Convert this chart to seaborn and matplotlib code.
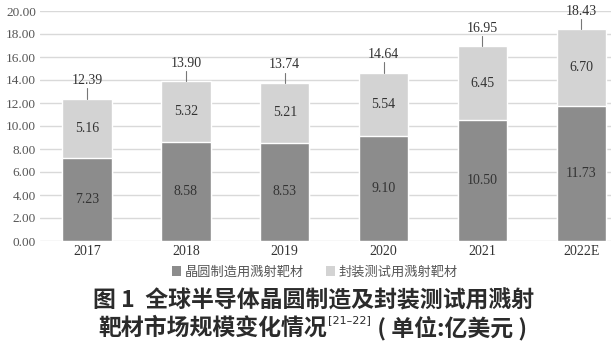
import matplotlib
matplotlib.use("Agg")
import matplotlib.pyplot as plt
import seaborn as sns
import pandas as pd
from matplotlib.patches import Patch

# ==================== Data ====================
years = ["2017", "2018", "2019", "2020", "2021", "2022E"]
wafer = [7.23, 8.58, 8.53, 9.10, 10.50, 11.73]      # 晶圆制造用溅射靶材
package = [5.16, 5.32, 5.21, 5.54, 6.45, 6.70]      # 封装测试用溅射靶材
totals = [12.39, 13.90, 13.74, 14.64, 16.95, 18.43]
yticks = [0, 2, 4, 6, 8, 10, 12, 14, 16, 18, 20]

legend_labels = ["晶圆制造用溅射靶材", "封装测试用溅射靶材"]
title_line1 = "图 1  全球半导体晶圆制造及封装测试用溅射"
title_line2a = "靶材市场规模变化情况"
title_sup = "[21–22]"
title_line2b = " ( 单位:亿美元 )"

DARK = "#8c8c8c"
LIGHT = "#d3d3d3"
NUM_FONT = "Liberation Serif"
CJK = ["Noto Sans CJK SC", "DejaVu Sans"]
TITLE_SIZE = 16.5
TITLE_WEIGHT = "bold"
TITLE_COLOR = "#2b2b2b"

sns.set_theme(style="white")
plt.rcParams["font.family"] = CJK

df = pd.DataFrame({"year": years, "wafer": wafer, "package": package, "total": totals})

fig = plt.figure(figsize=(6.11, 3.59), dpi=100)
ax = fig.add_axes([40 / 611, 1 - 241 / 359, 571 / 611, 230 / 359])

# stacked look: full total in light gray, bottom segment in dark gray on top
sns.barplot(data=df, x="year", y="total", color=LIGHT, width=0.5,
            saturation=1, ax=ax, zorder=2)
sns.barplot(data=df, x="year", y="wafer", color=DARK, width=0.5,
            saturation=1, ax=ax, zorder=3)

ax.set_ylim(0, 20)
ax.set_xlim(-0.476, 5.30)
ax.set_yticks(yticks)
ax.set_yticklabels([f"{v:.2f}" for v in yticks], family=NUM_FONT,
                   fontsize=9.5, color="#555555")
ax.set_xticks(range(len(years)))
ax.set_xticklabels(years, family=NUM_FONT, fontsize=10, color="#333333")
ax.tick_params(axis="both", length=0, pad=3)
ax.set_xlabel("")
ax.set_ylabel("")
for s in ax.spines.values():
    s.set_visible(False)
ax.grid(axis="y", color="#d9d9d9", linewidth=1, zorder=0)
ax.set_axisbelow(True)

# segment and total labels
for i in range(len(years)):
    ax.text(i, wafer[i] / 2, f"{wafer[i]:.2f}", ha="center", va="center",
            family=NUM_FONT, fontsize=10, color="#333333", zorder=5)
    ax.text(i, wafer[i] + package[i] / 2, f"{package[i]:.2f}", ha="center",
            va="center", family=NUM_FONT, fontsize=10, color="#333333", zorder=5)
    ax.plot([i, i], [totals[i], totals[i] + 0.9], color="#777777",
            linewidth=0.8, zorder=4)
    ax.text(i, totals[i] + 1.0, f"{totals[i]:.2f}", ha="center", va="bottom",
            family=NUM_FONT, fontsize=10, color="#333333", zorder=5)

# legend
handles = [Patch(facecolor=DARK, edgecolor="none"),
           Patch(facecolor=LIGHT, edgecolor="none")]
fig.legend(handles, legend_labels, loc="center", bbox_to_anchor=(315 / 611, 1 - 272 / 359),
           ncol=2, frameon=False, fontsize=9.5, handlelength=0.7, handleheight=0.7,
           handletextpad=0.3, columnspacing=1.6, labelcolor="#555555")

# caption
fig.text(314 / 611, 1 - 301 / 359, title_line1, ha="center", va="center",
         fontsize=TITLE_SIZE, fontweight=TITLE_WEIGHT, color=TITLE_COLOR)

fig.canvas.draw()
renderer = fig.canvas.get_renderer()
y2 = 1 - 328 / 359
t1 = fig.text(0, y2, title_line2a, ha="left", va="center", fontsize=TITLE_SIZE,
              fontweight=TITLE_WEIGHT, color=TITLE_COLOR)
t2 = fig.text(0, y2 + 0.022, title_sup, ha="left", va="center", fontsize=8,
              color=TITLE_COLOR, family=["DejaVu Sans"])
t3 = fig.text(0, y2, title_line2b, ha="left", va="center", fontsize=TITLE_SIZE,
              fontweight=TITLE_WEIGHT, color=TITLE_COLOR)
w1 = t1.get_window_extent(renderer).width
w2 = t2.get_window_extent(renderer).width
w3 = t3.get_window_extent(renderer).width
total_w = w1 + w2 + w3 + 2
x0 = 313 - total_w / 2
t1.set_x(x0 / 611)
t2.set_x((x0 + w1 + 1) / 611)
t3.set_x((x0 + w1 + w2 + 2) / 611)

fig.savefig("out.png", dpi=100)
